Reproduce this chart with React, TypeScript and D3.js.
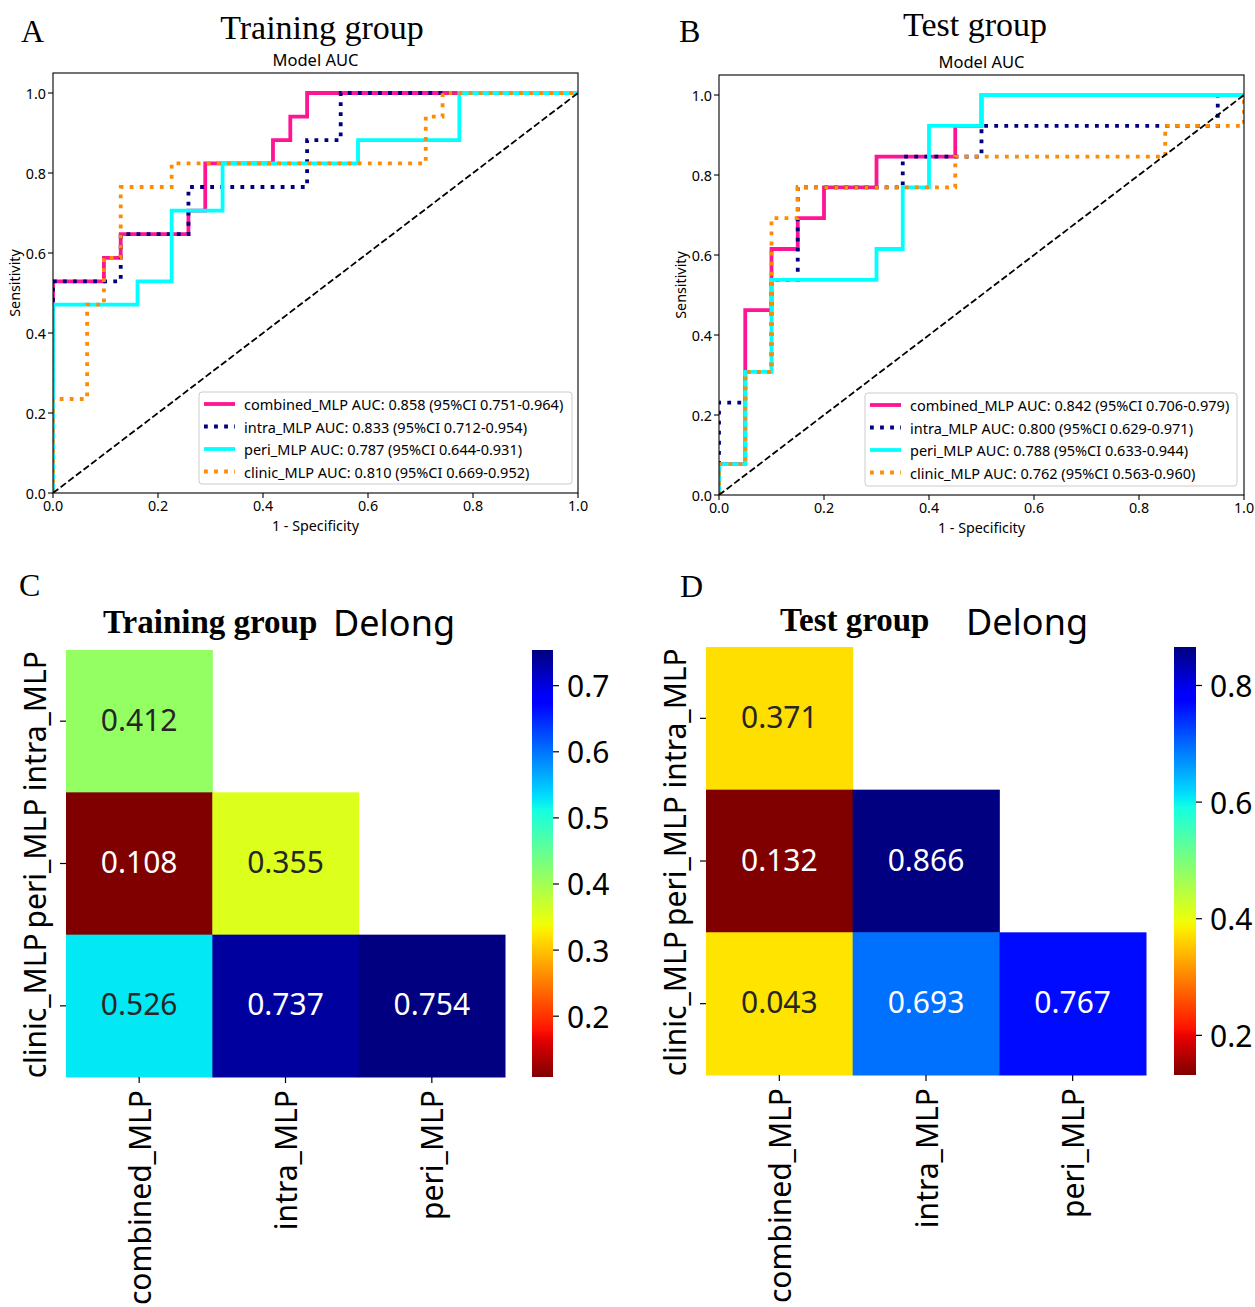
import React from "react";
import * as d3 from "d3";

// ---------- ROC data: training group ----------
const trainCombinedFpr = [0, 0, 0.097, 0.129, 0.258, 0.29, 0.419, 0.452, 0.484, 1];
const trainCombinedTpr = [0, 0.529, 0.588, 0.647, 0.706, 0.824, 0.882, 0.941, 1, 1];
const trainIntraFpr = [0, 0, 0.129, 0.258, 0.484, 0.548, 1];
const trainIntraTpr = [0, 0.529, 0.647, 0.765, 0.882, 1, 1];
const trainPeriFpr = [0, 0, 0.161, 0.226, 0.323, 0.581, 0.774, 1];
const trainPeriTpr = [0, 0.471, 0.529, 0.706, 0.824, 0.882, 1, 1];
const trainClinicFpr = [0, 0, 0.065, 0.097, 0.129, 0.226, 0.71, 0.742, 1];
const trainClinicTpr = [0, 0.235, 0.471, 0.588, 0.765, 0.824, 0.941, 1, 1];

// ---------- ROC data: test group ----------
const testCombinedFpr = [0, 0, 0.05, 0.1, 0.15, 0.2, 0.3, 0.45, 0.5, 1];
const testCombinedTpr = [0, 0.077, 0.462, 0.615, 0.692, 0.769, 0.846, 0.923, 1, 1];
const testIntraFpr = [0, 0, 0.05, 0.1, 0.15, 0.35, 0.5, 0.95, 1];
const testIntraTpr = [0, 0.231, 0.308, 0.538, 0.769, 0.846, 0.923, 1, 1];
const testPeriFpr = [0, 0, 0.05, 0.1, 0.3, 0.35, 0.4, 0.5, 1];
const testPeriTpr = [0, 0.077, 0.308, 0.538, 0.615, 0.769, 0.923, 1, 1];
const testClinicFpr = [0, 0, 0.05, 0.1, 0.15, 0.45, 0.85, 1];
const testClinicTpr = [0, 0.077, 0.308, 0.692, 0.769, 0.846, 0.923, 1];

const modelNames = ["combined_MLP", "intra_MLP", "peri_MLP", "clinic_MLP"];
const trainAuc = ["0.858", "0.833", "0.787", "0.810"];
const trainCi = ["0.751-0.964", "0.712-0.954", "0.644-0.931", "0.669-0.952"];
const testAuc = ["0.842", "0.800", "0.788", "0.762"];
const testCi = ["0.706-0.979", "0.629-0.971", "0.633-0.944", "0.563-0.960"];

const rocTicks = [0, 0.2, 0.4, 0.6, 0.8, 1.0];

// ---------- DeLong heatmaps ----------
const heatRows = ["intra_MLP", "peri_MLP", "clinic_MLP"];
const heatCols = ["combined_MLP", "intra_MLP", "peri_MLP"];
const trainPColor = [[0.412], [0.108, 0.355], [0.526, 0.737, 0.754]];
const trainPLabel = [["0.412"], ["0.108", "0.355"], ["0.526", "0.737", "0.754"]];
const testPColor = [[0.371], [0.132, 0.866], [0.375, 0.693, 0.767]];
const testPLabel = [["0.371"], ["0.132", "0.866"], ["0.043", "0.693", "0.767"]];
const trainCbTicks = [0.2, 0.3, 0.4, 0.5, 0.6, 0.7];
const testCbTicks = [0.2, 0.4, 0.6, 0.8];

// ---------- styles ----------
const SERIF = "'Liberation Serif', 'Times New Roman', serif";
const SANS = "'Noto Sans', 'DejaVu Sans', sans-serif";
const seriesColors = ["#FF1493", "#000080", "#00FFFF", "#FF8C00"];
const seriesDotted = [false, true, false, true];
const LW = 3.8;

function interp(t: number, pts: number[][]) {
  for (let i = 1; i < pts.length; i++) {
    if (t <= pts[i][0]) {
      const [x0, y0] = pts[i - 1];
      const [x1, y1] = pts[i];
      return y0 + ((t - x0) / (x1 - x0)) * (y1 - y0);
    }
  }
  return pts[pts.length - 1][1];
}
function jetRGB(t: number): number[] {
  t = Math.max(0, Math.min(1, t));
  const r = interp(t, [[0, 0], [0.35, 0], [0.66, 1], [0.89, 1], [1, 0.5]]);
  const g = interp(t, [[0, 0], [0.125, 0], [0.375, 1], [0.64, 1], [0.91, 0], [1, 0]]);
  const b = interp(t, [[0, 0.5], [0.11, 1], [0.34, 1], [0.65, 0], [1, 0]]);
  return [r, g, b];
}
function rgbStr(c: number[]) {
  return d3.rgb(c[0] * 255, c[1] * 255, c[2] * 255).formatHex();
}
function textColorFor(c: number[]) {
  const lin = c.map((v) => (v <= 0.03928 ? v / 12.92 : Math.pow((v + 0.055) / 1.055, 2.4)));
  const lum = 0.2126 * lin[0] + 0.7152 * lin[1] + 0.0722 * lin[2];
  return lum > 0.408 ? "#262626" : "#ffffff";
}

type RocCfg = {
  id: string;
  left: number;
  right: number;
  top: number;
  bottom: number;
  letter: string;
  letterX: number;
  letterY: number;
  title: string;
  titleX: number;
  titleY: number;
  subY: number;
  fpr: number[][];
  tpr: number[][];
  auc: string[];
  ci: string[];
  legX: number;
  legY: number;
  legW: number;
  legH: number;
};

function RocPanel({ cfg }: { cfg: RocCfg }) {
  const x = d3.scaleLinear().domain([0, 1]).range([cfg.left, cfg.right]);
  const y = d3.scaleLinear().domain([0, 1.05]).range([cfg.bottom, cfg.top]);
  const line = d3
    .line<[number, number]>()
    .x((d) => x(d[0]))
    .y((d) => y(d[1]))
    .curve(d3.curveStepAfter);
  const fmt = d3.format(".1f");
  const cx = (cfg.left + cfg.right) / 2;
  const cy = (cfg.top + cfg.bottom) / 2;
  const rowH = 22.5;
  return (
    <g>
      <text x={cfg.letterX} y={cfg.letterY} fontFamily={SERIF} fontSize={32}>
        {cfg.letter}
      </text>
      <text x={cfg.titleX} y={cfg.titleY} fontFamily={SERIF} fontSize={34} textAnchor="middle">
        {cfg.title}
      </text>
      <text x={cx} y={cfg.subY} fontFamily={SANS} fontSize={16.5} textAnchor="middle">
        Model AUC
      </text>
      <defs>
        <clipPath id={`clip-${cfg.id}`}>
          <rect x={cfg.left} y={cfg.top} width={cfg.right - cfg.left} height={cfg.bottom - cfg.top} />
        </clipPath>
      </defs>
      <g clipPath={`url(#clip-${cfg.id})`}>
        {cfg.fpr.map((fx, i) => {
          const pts = fx.map((v, j) => [v, cfg.tpr[i][j]] as [number, number]);
          return (
            <path
              key={i}
              d={line(pts) || ""}
              fill="none"
              stroke={seriesColors[i]}
              strokeWidth={LW}
              strokeDasharray={seriesDotted[i] ? `${LW} ${LW * 1.65}` : undefined}
            />
          );
        })}
        <line
          x1={x(0)}
          y1={y(0)}
          x2={x(1)}
          y2={y(1)}
          stroke="#000"
          strokeWidth={1.8}
          strokeDasharray="6.7 2.9"
        />
      </g>
      <rect
        x={cfg.left}
        y={cfg.top}
        width={cfg.right - cfg.left}
        height={cfg.bottom - cfg.top}
        fill="none"
        stroke="#000"
        strokeWidth={1.1}
      />
      {rocTicks.map((t) => (
        <g key={`x${t}`}>
          <line x1={x(t)} x2={x(t)} y1={cfg.bottom} y2={cfg.bottom + 5} stroke="#000" strokeWidth={1.1} />
          <text x={x(t)} y={cfg.bottom + 18} fontFamily={SANS} fontSize={14.3} textAnchor="middle">
            {fmt(t)}
          </text>
        </g>
      ))}
      {rocTicks.map((t) => (
        <g key={`y${t}`}>
          <line x1={cfg.left - 5} x2={cfg.left} y1={y(t)} y2={y(t)} stroke="#000" strokeWidth={1.1} />
          <text
            x={cfg.left - 7}
            y={y(t)}
            fontFamily={SANS}
            fontSize={14.3}
            textAnchor="end"
            dominantBaseline="central"
          >
            {fmt(t)}
          </text>
        </g>
      ))}
      <text x={cx} y={cfg.bottom + 38} fontFamily={SANS} fontSize={14.3} textAnchor="middle">
        1 - Specificity
      </text>
      <text
        transform={`translate(${cfg.left - 33},${cy}) rotate(-90)`}
        fontFamily={SANS}
        fontSize={14.3}
        textAnchor="middle"
      >
        Sensitivity
      </text>
      <rect
        x={cfg.legX}
        y={cfg.legY}
        width={cfg.legW}
        height={cfg.legH}
        rx={3}
        fill="#fff"
        fillOpacity={0.8}
        stroke="#cccccc"
        strokeWidth={1}
      />
      {modelNames.map((m, i) => {
        const ry = cfg.legY + 12 + i * rowH;
        return (
          <g key={m}>
            <line
              x1={cfg.legX + 5}
              x2={cfg.legX + 36}
              y1={ry}
              y2={ry}
              stroke={seriesColors[i]}
              strokeWidth={LW}
              strokeDasharray={seriesDotted[i] ? `${LW} ${LW * 1.65}` : undefined}
            />
            <text x={cfg.legX + 45} y={ry} fontFamily={SANS} fontSize={14.5} dominantBaseline="central">
              {`${m} AUC: ${cfg.auc[i]} (95%CI ${cfg.ci[i]})`}
            </text>
          </g>
        );
      })}
    </g>
  );
}

type HeatCfg = {
  id: string;
  left: number;
  right: number;
  top: number;
  bottom: number;
  cbLeft: number;
  cbWidth: number;
  colorVals: number[][];
  labels: string[][];
  cbTicks: number[];
  letter: string;
  letterX: number;
  letterY: number;
  title: string;
  titleX: number;
  titleY: number;
  delongX: number;
  delongY: number;
  yLabelX: number;
};

function Heatmap({ cfg }: { cfg: HeatCfg }) {
  const xs = d3.scaleBand().domain(heatCols).range([cfg.left, cfg.right]);
  const ys = d3.scaleBand().domain(heatRows).range([cfg.top, cfg.bottom]);
  const all = cfg.colorVals.flat();
  const vmin = d3.min(all) as number;
  const vmax = d3.max(all) as number;
  const norm = d3.scaleLinear().domain([vmin, vmax]).range([0, 1]);
  const cb = d3.scaleLinear().domain([vmin, vmax]).range([cfg.bottom, cfg.top]);
  const colorOf = (v: number) => jetRGB(1 - norm(v));
  const stops = d3.range(0, 65).map((i) => i / 64);
  const gid = `grad-${cfg.id}`;
  const cbRight = cfg.cbLeft + cfg.cbWidth;
  return (
    <g>
      <text x={cfg.letterX} y={cfg.letterY} fontFamily={SERIF} fontSize={32}>
        {cfg.letter}
      </text>
      <text x={cfg.titleX} y={cfg.titleY} fontFamily={SERIF} fontSize={33} fontWeight="bold">
        {cfg.title}
      </text>
      <text x={cfg.delongX} y={cfg.delongY} fontFamily={SANS} fontSize={36}>
        Delong
      </text>
      {cfg.colorVals.map((row, ri) =>
        row.map((v, ci) => {
          const c = colorOf(v);
          const bx = xs(heatCols[ci]) as number;
          const by = ys(heatRows[ri]) as number;
          return (
            <g key={`${ri}-${ci}`}>
              <rect
                x={bx}
                y={by}
                width={xs.bandwidth() + 0.5}
                height={ys.bandwidth() + 0.5}
                fill={rgbStr(c)}
              />
              <text
                x={bx + xs.bandwidth() / 2}
                y={by + ys.bandwidth() / 2 - 2}
                fontFamily={SANS}
                fontSize={30}
                textAnchor="middle"
                dominantBaseline="central"
                fill={textColorFor(c)}
              >
                {cfg.labels[ri][ci]}
              </text>
            </g>
          );
        })
      )}
      {heatRows.map((r) => {
        const yc = (ys(r) as number) + ys.bandwidth() / 2;
        return (
          <g key={`r${r}`}>
            <line x1={cfg.left - 6} x2={cfg.left} y1={yc} y2={yc} stroke="#000" strokeWidth={1.2} />
            <text
              transform={`translate(${cfg.yLabelX},${yc}) rotate(-90)`}
              fontFamily={SANS}
              fontSize={30}
              textAnchor="middle"
              dominantBaseline="central"
            >
              {r}
            </text>
          </g>
        );
      })}
      {heatCols.map((c) => {
        const xc = (xs(c) as number) + xs.bandwidth() / 2;
        return (
          <g key={`c${c}`}>
            <line x1={xc} x2={xc} y1={cfg.bottom} y2={cfg.bottom + 6} stroke="#000" strokeWidth={1.2} />
            <text
              transform={`translate(${xc},${cfg.bottom + 13}) rotate(-90)`}
              fontFamily={SANS}
              fontSize={30}
              textAnchor="end"
              dominantBaseline="central"
            >
              {c}
            </text>
          </g>
        );
      })}
      <defs>
        <linearGradient id={gid} x1="0" y1="1" x2="0" y2="0">
          {stops.map((s) => (
            <stop key={s} offset={s} stopColor={rgbStr(jetRGB(1 - s))} />
          ))}
        </linearGradient>
      </defs>
      <rect
        x={cfg.cbLeft}
        y={cfg.top}
        width={cfg.cbWidth}
        height={cfg.bottom - cfg.top}
        fill={`url(#${gid})`}
      />
      {cfg.cbTicks.map((t) => (
        <g key={`t${t}`}>
          <line x1={cbRight} x2={cbRight + 6} y1={cb(t)} y2={cb(t)} stroke="#000" strokeWidth={1.2} />
          <text
            x={cbRight + 14}
            y={cb(t)}
            fontFamily={SANS}
            fontSize={30}
            dominantBaseline="central"
          >
            {d3.format(".1f")(t)}
          </text>
        </g>
      ))}
    </g>
  );
}

const rocA: RocCfg = {
  id: "a",
  left: 53,
  right: 578,
  top: 73,
  bottom: 493,
  letter: "A",
  letterX: 21,
  letterY: 42,
  title: "Training group",
  titleX: 322,
  titleY: 39,
  subY: 66,
  fpr: [trainCombinedFpr, trainIntraFpr, trainPeriFpr, trainClinicFpr],
  tpr: [trainCombinedTpr, trainIntraTpr, trainPeriTpr, trainClinicTpr],
  auc: trainAuc,
  ci: trainCi,
  legX: 199,
  legY: 392,
  legW: 373,
  legH: 92,
};

const rocB: RocCfg = {
  id: "b",
  left: 719,
  right: 1244,
  top: 75,
  bottom: 495,
  letter: "B",
  letterX: 679,
  letterY: 42,
  title: "Test group",
  titleX: 975,
  titleY: 36,
  subY: 68,
  fpr: [testCombinedFpr, testIntraFpr, testPeriFpr, testClinicFpr],
  tpr: [testCombinedTpr, testIntraTpr, testPeriTpr, testClinicTpr],
  auc: testAuc,
  ci: testCi,
  legX: 865,
  legY: 393,
  legW: 372,
  legH: 93,
};

const heatC: HeatCfg = {
  id: "c",
  left: 66,
  right: 505,
  top: 650,
  bottom: 1077,
  cbLeft: 532,
  cbWidth: 21,
  colorVals: trainPColor,
  labels: trainPLabel,
  cbTicks: trainCbTicks,
  letter: "C",
  letterX: 19,
  letterY: 596,
  title: "Training group",
  titleX: 103,
  titleY: 633,
  delongX: 333,
  delongY: 636,
  yLabelX: 34,
};

const heatD: HeatCfg = {
  id: "d",
  left: 706,
  right: 1146,
  top: 647,
  bottom: 1075,
  cbLeft: 1174,
  cbWidth: 22,
  colorVals: testPColor,
  labels: testPLabel,
  cbTicks: testCbTicks,
  letter: "D",
  letterX: 680,
  letterY: 597,
  title: "Test group",
  titleX: 780,
  titleY: 631,
  delongX: 966,
  delongY: 635,
  yLabelX: 674,
};

export default function App() {
  return (
    <svg
      width={1255}
      height={1307}
      viewBox="0 0 1255 1307"
      style={{ position: "absolute", left: 0, top: 0, background: "#fff" }}
    >
      <rect x={0} y={0} width={1255} height={1307} fill="#fff" />
      <RocPanel cfg={rocA} />
      <RocPanel cfg={rocB} />
      <Heatmap cfg={heatC} />
      <Heatmap cfg={heatD} />
    </svg>
  );
}
